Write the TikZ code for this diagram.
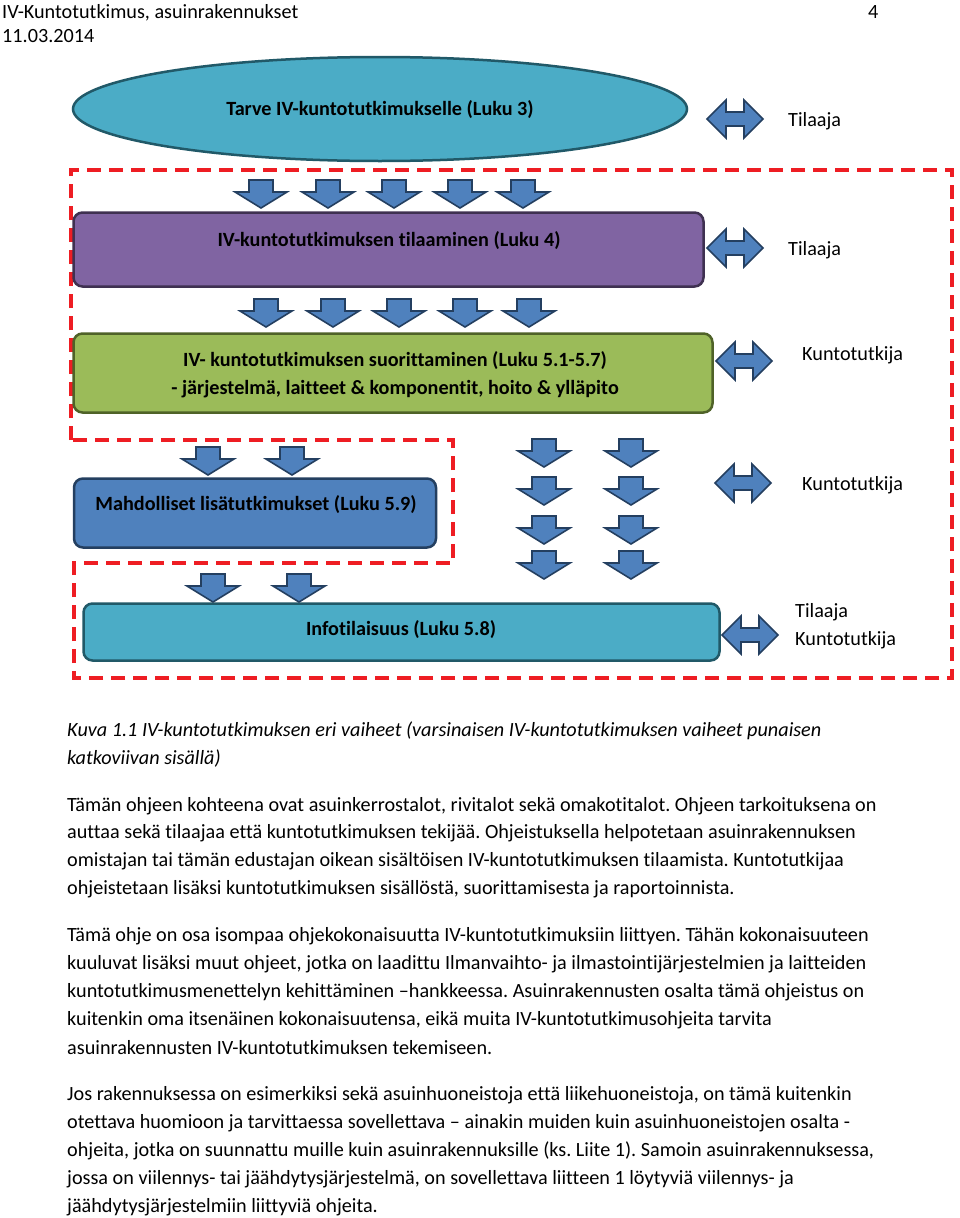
\documentclass[tikz,border=0pt]{standalone}
\usepackage{fontspec}
\setmainfont{Carlito}[RawFeature=-liga]
\usetikzlibrary{shapes.geometric}
\definecolor{teal}{HTML}{4BACC6}
\definecolor{tealdark}{HTML}{215968}
\definecolor{purp}{HTML}{8064A2}
\definecolor{purpdark}{HTML}{3F3151}
\definecolor{grn}{HTML}{9BBB59}
\definecolor{grndark}{HTML}{4F6228}
\definecolor{blu}{HTML}{4F81BD}
\definecolor{bludark}{HTML}{243F60}
\definecolor{redd}{HTML}{EE1D23}
\newcommand\myfont{\fontsize{20.2pt}{24pt}\selectfont\frenchspacing}
\tikzset{
  every node/.style={inner sep=0pt, font=\myfont},
  boxst/.style={draw, line width=2.5pt, rounded corners=9pt},
  arrst/.style={draw=bludark, fill=blu, line width=1.6pt, line join=miter},
  darr/.pic={\path[arrst] (-12,0) -- (12,0) -- (12,12) -- (26,12) -- (0,28) -- (-26,12) -- (-12,12) -- cycle;},
  lrarr/.pic={\path[arrst] (-28,0) -- (-9,-19) -- (-9,-7) -- (9,-7) -- (9,-19) -- (28,0) -- (9,19) -- (9,7) -- (-9,7) -- (-9,19) -- cycle;},
  redline/.style={draw=redd, line width=3.8pt, dash pattern=on 14pt off 8pt},
  txt/.style={anchor=base west},
  btxt/.style={anchor=base, font=\myfont\bfseries},
}
\begin{document}
\begin{tikzpicture}[x=1pt,y=-1pt]
\useasboundingbox[fill=white] (0,0) rectangle (960,1218);

% header
\node[txt] (h1) at (2,18) {IV-Kuntotutkimus, asuinrakennukset};
\node[txt] (h2) at (2,42) {11.03.2014};
\node[txt] (h3) at (868,18) {4};

% red dashed region
\draw[redline] (71,440) -- (71,170) -- (952,170) -- (952,678) -- (74,678) -- (74,563) -- (453,563) -- (453,440) -- cycle;

% ellipse
\node[ellipse, draw=tealdark, fill=teal, line width=2.5pt, minimum width=614pt, minimum height=104pt] (e1) at (380,109) {};
\node[btxt] (t1) at (380,115) {Tarve IV-kuntotutkimukselle (Luku 3)};

% purple box
\node[boxst, draw=purpdark, fill=purp, minimum width=630pt, minimum height=74pt] (b2) at (388.5,249.5) {};
\node[btxt] (t2) at (389,246) {IV-kuntotutkimuksen tilaaminen (Luku 4)};

% green box
\node[boxst, draw=grndark, fill=grn, minimum width=639pt, minimum height=79pt] (b3) at (393,373) {};
\node[btxt] (t3a) at (395,366) {IV- kuntotutkimuksen suorittaminen (Luku 5.1-5.7)};
\node[btxt] (t3b) at (395,394) {- järjestelmä, laitteet \& komponentit, hoito \& ylläpito};

% blue box
\node[boxst, draw=bludark, fill=blu, minimum width=362pt, minimum height=69pt] (b4) at (255,513) {};
\node[btxt] (t4) at (256,510) {Mahdolliset lisätutkimukset (Luku 5.9)};

% info box
\node[boxst, draw=tealdark, fill=teal, minimum width=636pt, minimum height=57pt] (b5) at (401.5,632) {};
\node[btxt] (t5) at (401,635) {Infotilaisuus (Luku 5.8)};

% down arrows
\foreach \x in {261,328,394,460,523} \pic at (\x,180) {darr};
\foreach \x in {266,333,399,465,529} \pic at (\x,299) {darr};
\foreach \x in {208,292} \pic at (\x,447) {darr};
\foreach \x in {213,299} \pic at (\x,574) {darr};
\foreach \y in {439,477,516,551} {\pic at (544,\y) {darr}; \pic at (631,\y) {darr};}

% left-right arrows
\pic at (735,119) {lrarr};
\pic at (735,248) {lrarr};
\pic at (744,361) {lrarr};
\pic at (743,483) {lrarr};
\pic at (750,635) {lrarr};

% role labels
\node[txt] (r1) at (788,126) {Tilaaja};
\node[txt] (r2) at (788,255) {Tilaaja};
\node[txt] (r3) at (802,360) {Kuntotutkija};
\node[txt] (r4) at (802,490) {Kuntotutkija};
\node[txt] (r5) at (795,617) {Tilaaja};
\node[txt] (r6) at (795,645) {Kuntotutkija};

% caption
\node[txt, font=\myfont\itshape] (c1) at (67,736) {Kuva 1.1 IV-kuntotutkimuksen eri vaiheet (varsinaisen IV-kuntotutkimuksen vaiheet punaisen};
\node[txt, font=\myfont\itshape] (c2) at (67,764) {katkoviivan sisällä)};

% paragraph 1
\node[txt] (p1) at (67,811) {Tämän ohjeen kohteena ovat asuinkerrostalot, rivitalot sekä omakotitalot. Ohjeen tarkoituksena on};
\node[txt] (p2) at (67,838) {auttaa sekä tilaajaa että kuntotutkimuksen tekijää. Ohjeistuksella helpotetaan asuinrakennuksen};
\node[txt] (p3) at (67,866) {omistajan tai tämän edustajan oikean sisältöisen IV-kuntotutkimuksen tilaamista. Kuntotutkijaa};
\node[txt] (p4) at (67,894) {ohjeistetaan lisäksi kuntotutkimuksen sisällöstä, suorittamisesta ja raportoinnista.};

% paragraph 2
\node[txt] (q1) at (67,941) {Tämä ohje on osa isompaa ohjekokonaisuutta IV-kuntotutkimuksiin liittyen. Tähän kokonaisuuteen};
\node[txt] (q2) at (67,969) {kuuluvat lisäksi muut ohjeet, jotka on laadittu Ilmanvaihto- ja ilmastointijärjestelmien ja laitteiden};
\node[txt] (q3) at (67,997) {kuntotutkimusmenettelyn kehittäminen –hankkeessa. Asuinrakennusten osalta tämä ohjeistus on};
\node[txt] (q4) at (67,1025) {kuitenkin oma itsenäinen kokonaisuutensa, eikä muita IV-kuntotutkimusohjeita tarvita};
\node[txt] (q5) at (67,1054) {asuinrakennusten IV-kuntotutkimuksen tekemiseen.};

% paragraph 3
\node[txt] (s1) at (67,1100) {Jos rakennuksessa on esimerkiksi sekä asuinhuoneistoja että liikehuoneistoja, on tämä kuitenkin};
\node[txt] (s2) at (67,1128) {otettava huomioon ja tarvittaessa sovellettava – ainakin muiden kuin asuinhuoneistojen osalta -};
\node[txt] (s3) at (67,1156) {ohjeita, jotka on suunnattu muille kuin asuinrakennuksille (ks. Liite 1). Samoin asuinrakennuksessa,};
\node[txt] (s4) at (67,1184) {jossa on viilennys- tai jäähdytysjärjestelmä, on sovellettava liitteen 1 löytyviä viilennys- ja};
\node[txt] (s5) at (67,1212) {jäähdytysjärjestelmiin liittyviä ohjeita.};
\end{tikzpicture}
\end{document}
